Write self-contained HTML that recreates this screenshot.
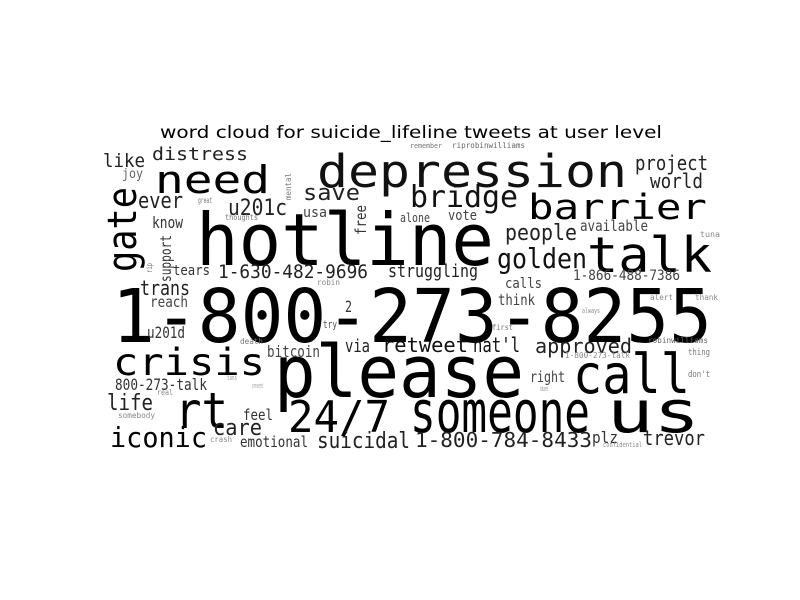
<!DOCTYPE html>
<html><head><meta charset="utf-8"><style>
html,body{margin:0;padding:0;background:#fff;}
svg{display:block;}
text{font-family:"DejaVu Sans Mono","Liberation Mono",monospace;}
</style></head>
<body>
<svg id="chart" width="800" height="600" viewBox="0 0 800 600" xmlns="http://www.w3.org/2000/svg">
<rect width="800" height="600" fill="#fff"/>
<text x="411" y="138" text-anchor="middle" font-size="17" style="font-family:'DejaVu Sans','Liberation Sans',sans-serif" textLength="502" lengthAdjust="spacingAndGlyphs" fill="#000">word cloud for suicide_lifeline tweets at user level</text>
<g id="words"></g>
</svg>
<script>
// word, x, baseline, font size, width, color, rotated
const words = ["1-800-273-8255","hotline","please","depression","need","talk","barrier","bridge","rt","24/7","crisis","someone","us","call","iconic","golden","gate","like","distress","joy","ever","save","u201c","know","usa","free","support","tears","1-630-482-9696","trans","struggling","alone","project","world","vote","people","available","calls","1-866-488-7386","reach","2","u201d","try","bitcoin","via","retweet","nat'l","800-273-talk","life","feel","care","emotional","suicidal","think","approved","right","1-800-784-8433","plz","trevor","great","thoughts","remember","riprobinwilliams","robinwilliams","death","somebody","crash","first","always","thing","don't","1-800-273-talk","confidential","robin","tuna","alert","thank","mental","rip","share","real","prevent","tans"];
const xs = [112,196,274,317,155,587,528,410,175,288,113,410,607,573,110,497,136,103,152,122,138,303,228,152,303,366,171,173,218,140,388,400,635,650,448,505,580,505,573,150,345,147,323,267,345,382,473,115,107,243,213,240,317,498,535,530,415,592,643,198,225,410,452,648,240,118,210,492,582,688,688,565,603,317,700,650,695,291,152,540,157,252,227];
const ys = [342,265,397,187,193,272,219,207,428,432,375,432,432,393,447,268,272,167,160,178,208,200,215,228,217,235,282,275,278,295,277,222,170,188,220,240,231,288,280,307,312,338,328,357,352,352,352,390,410,420,435,447,448,305,353,382,447,443,445,203,220,148,148,343,344,418,442,330,313,355,377,358,447,285,237,300,300,200,273,391,395,388,380];
const sizes = [74,72,72,45,38,49,35,30,50,44,37,58,58,54,28,28,40,19,18,13,22,22,22,16,14,15,15,14,19,20,18,12,20,20,14,22,15,14,14,15,16,16,11,16,18,20,20,16,22,15,22,15,22,15,20,15,20,16,20,8,8,7,8,8,8,8,8,8,7,9,9,8,7,8,8,8,8,8,8,7,8,7,7];
const widths = [600,298,250,310,115,125,179,108,53,102,152,180,93,117,97,90,85,42,96,21,45,57,59,31,24,30,47,37,150,50,90,30,73,53,29,72,68,37,107,38,7,38,14,53,25,86,47,92,46,30,49,68,93,37,97,35,177,26,62,14,33,32,73,60,23,37,22,21,18,22,22,65,39,23,20,23,23,27,10,8,16,11,10];
const shades = ["#000","#000","#000","#111","#000","#000","#000","#111","#000","#000","#000","#000","#000","#000","#000","#111","#000","#222","#222","#666","#222","#222","#222","#333","#444","#333","#333","#333","#222","#222","#222","#444","#222","#222","#444","#222","#444","#444","#444","#444","#333","#333","#555","#444","#222","#111","#111","#333","#222","#333","#222","#333","#222","#444","#222","#444","#222","#333","#222","#777","#777","#777","#666","#666","#777","#888","#888","#777","#888","#777","#777","#888","#888","#888","#888","#888","#888","#777","#777","#888","#888","#999","#999"];
const rotated = ["gate","free","support","mental","rip"];
const g = document.getElementById('words');
const NS = 'http://www.w3.org/2000/svg';
for (let i = 0; i < words.length; i++) {
  const t = document.createElementNS(NS, 'text');
  t.setAttribute('font-size', sizes[i]);
  t.setAttribute('fill', shades[i]);
  t.setAttribute('textLength', widths[i]);
  t.setAttribute('lengthAdjust', 'spacingAndGlyphs');
  if (rotated.indexOf(words[i]) >= 0) {
    t.setAttribute('x', 0);
    t.setAttribute('y', 0);
    t.setAttribute('transform', 'translate(' + xs[i] + ',' + ys[i] + ') rotate(-90)');
  } else {
    t.setAttribute('x', xs[i]);
    t.setAttribute('y', ys[i]);
  }
  t.textContent = words[i];
  
  
  g.appendChild(t);
}
</script>
</body></html>
